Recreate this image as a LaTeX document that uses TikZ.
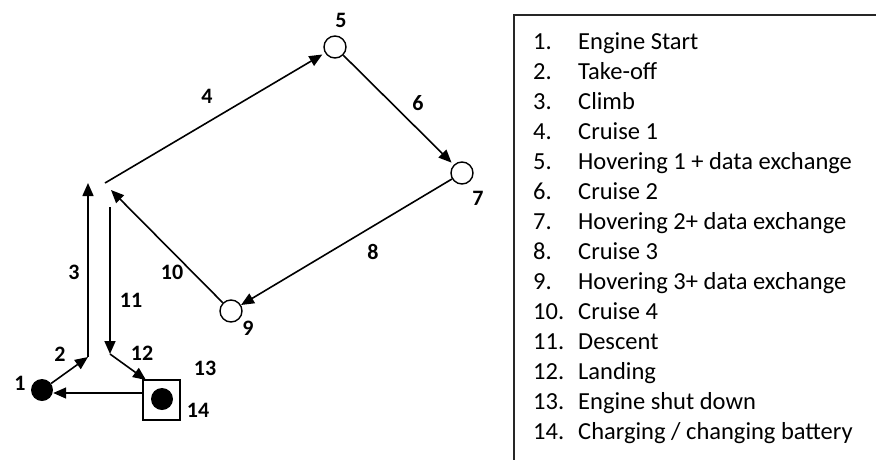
\documentclass[tikz,border=0pt]{standalone}
\usepackage{fontspec}
\setmainfont{Carlito}
\usetikzlibrary{arrows.meta}

\tikzset{
  flow/.style={line width=1.6pt, -{Triangle[length=13pt,width=11pt]}},
  hover/.style={circle, draw, line width=1.4pt, minimum size=22pt, inner sep=0pt, fill=white},
  ground/.style={circle, fill=black, minimum size=22pt, inner sep=0pt},
  pad/.style={draw, line width=1.4pt, minimum width=37pt, minimum height=40pt, inner sep=0pt},
  lbl/.style={inner sep=0pt, font=\fontsize{22}{22}\selectfont\bfseries},
  item/.style={anchor=base west, inner sep=0pt, font=\fontsize{24.5}{26}\selectfont},
}

\begin{document}
\begin{tikzpicture}[x=1pt, y=-1pt]
\useasboundingbox (0,0) rectangle (876,459);

% flight path stations
\node[ground] (n1) at (42,390) {};
\node[hover] (n5) at (335,47) {};
\node[hover] (n7) at (462,173) {};
\node[hover] (n9) at (231,311) {};
\node[pad] (pad) at (161.5,400) {};
\node[ground] (n14) at (162,399) {};

% bends of the path
\coordinate (climb0) at (88,357);
\coordinate (climb1) at (88,183);
\coordinate (cruise0) at (105,183);
\coordinate (back) at (111,190);
\coordinate (desc0) at (110,207);
\coordinate (desc1) at (110,354);
\coordinate (land) at (146,380);
\coordinate (ret) at (143,393);

% segments
\draw[flow] (n1) -- (climb0);
\draw[flow] (climb0) -- (climb1);
\draw[flow, shorten >=3pt] (cruise0) -- (n5);
\draw[flow, shorten >=3pt] (n5) -- (n7);
\draw[flow] (n7) -- (n9);
\draw[flow] (n9) -- (back);
\draw[flow] (desc0) -- (desc1);
\draw[flow] (desc1) -- (land);
\draw[flow] (ret) -- (n1.east |- ret);

% step numbers
\node[lbl] (l1) at (20,383) {1};
\node[lbl] (l2) at (60,354) {2};
\node[lbl] (l3) at (74,272) {3};
\node[lbl] (l4) at (207,96) {4};
\node[lbl] (l5) at (341,20) {5};
\node[lbl] (l6) at (418,103) {6};
\node[lbl] (l7) at (478,198) {7};
\node[lbl] (l8) at (373,252) {8};
\node[lbl] (l9) at (248,328) {9};
\node[lbl] (l10) at (172,272) {10};
\node[lbl] (l11) at (131,300) {11};
\node[lbl] (l12) at (142,353) {12};
\node[lbl] (l13) at (205,368) {13};
\node[lbl] (l14) at (198,410) {14};

% legend frame
\draw[line width=1.5pt, black!85] (514,470) |- (890,15);

% legend entries
\foreach \i/\t in {1/{Engine Start}, 2/{Take-off}, 3/{Climb}, 4/{Cruise 1},
  5/{Hovering 1 + data exchange}, 6/{Cruise 2}, 7/{Hovering 2+ data exchange},
  8/{Cruise 3}, 9/{Hovering 3+ data exchange}, 10/{Cruise 4}, 11/{Descent},
  12/{Landing}, 13/{Engine shut down}, 14/{Charging / changing battery}} {
  \node[item] (k\i) at (533, {49+30*(\i-1)}) {\i.};
  \node[item] (t\i) at (578, {49+30*(\i-1)}) {\t};
}
\end{tikzpicture}
\end{document}
